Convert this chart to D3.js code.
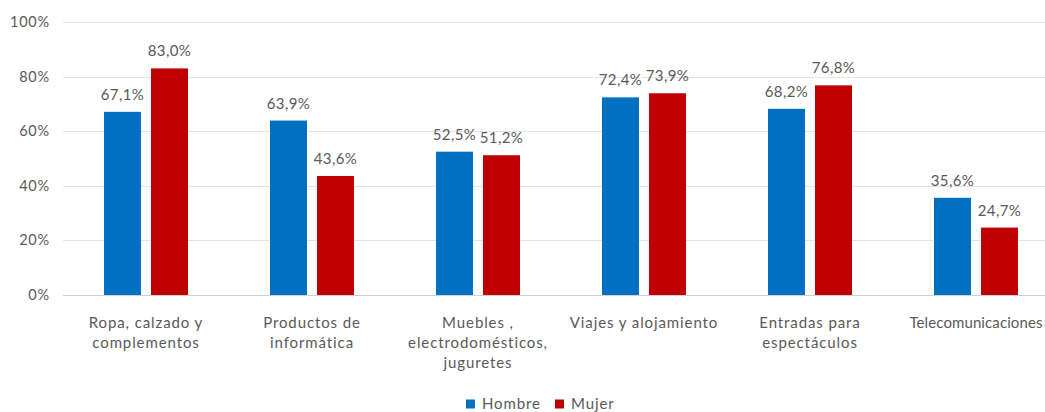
<!DOCTYPE html>
<html>
<head>
<meta charset="utf-8">
<script src="https://cdn.jsdelivr.net/npm/d3@7"></script>
<style>
  body { margin: 0; background: #fff; }
  svg text { font-family: Lato, "Open Sans", sans-serif; fill: #595959; }
</style>
</head>
<body>
<svg id="chart" width="1045" height="412"></svg>
<script>
// categories (split in lines like the original)
var categories = [
  ["Ropa, calzado y", "complementos"],
  ["Productos de", "informática"],
  ["Muebles ,", "electrodomésticos,", "juguretes"],
  ["Viajes y alojamiento"],
  ["Entradas para", "espectáculos"],
  ["Telecomunicaciones"]
];
var seriesNames = ["Hombre", "Mujer"];
var hombre = [67.1, 63.9, 52.5, 72.4, 68.2, 35.6];
var mujer = [83.0, 43.6, 51.2, 73.9, 76.8, 24.7];
var yTicks = [0, 20, 40, 60, 80, 100];
var colors = ["#0070C0", "#C00000"];

var svg = d3.select("#chart"),
    margin = {top: 22, left: 63, bottom: 117},
    plotW = 996,
    height = 412 - margin.top - margin.bottom;

var x = d3.scaleBand().domain(d3.range(categories.length)).range([0, plotW]);
var x1 = d3.scaleBand().domain([0, 1]).range([x.bandwidth() / 2 - 42, x.bandwidth() / 2 + 42]).paddingInner(0.213);
var y = d3.scaleLinear().domain([0, 100]).range([height, 0]);

var g = svg.append("g").attr("transform", "translate(" + margin.left + "," + margin.top + ")");

// grid
g.selectAll("line.grid").data(yTicks).enter()
  .append("line")
  .attr("class", "grid")
  .attr("x1", 0).attr("x2", plotW)
  .attr("y1", function(d) { return Math.round(y(d)) + 0.5; })
  .attr("y2", function(d) { return Math.round(y(d)) + 0.5; })
  .attr("stroke", function(d) { return d == 0 ? "#d0d0d0" : "#e3e3e3"; })
  .attr("stroke-width", 1);

// y labels
g.selectAll("text.ylab").data(yTicks).enter()
  .append("text")
  .attr("class", "ylab")
  .attr("x", -13)
  .attr("y", function(d) { return y(d); })
  .attr("dy", "0.35em")
  .attr("text-anchor", "end")
  .style("font-size", "14.5px")
  .style("letter-spacing", "0.8px")
  .text(function(d) { return d + "%"; });

var series = [hombre, mujer];
series.forEach(function(vals, s) {
  var grp = g.append("g");
  grp.selectAll("rect").data(vals).enter()
    .append("rect")
    .attr("x", function(d, i) { return x(i) + x1(s); })
    .attr("width", x1.bandwidth())
    .attr("y", function(d) { return y(d); })
    .attr("height", function(d) { return height - y(d); })
    .attr("fill", colors[s]);
  grp.selectAll("text").data(vals).enter()
    .append("text")
    .attr("x", function(d, i) { return x(i) + x1(s) + x1.bandwidth() / 2; })
    .attr("y", function(d) { return y(d) - 12; })
    .attr("text-anchor", "middle")
    .style("font-size", "15px")
    .style("letter-spacing", "0.4px")
    .text(function(d) { return d.toFixed(1).replace(".", ",") + "%"; });
});

// category labels
var cat = g.selectAll("text.cat").data(categories).enter()
  .append("text")
  .attr("class", "cat")
  .attr("text-anchor", "middle")
  .style("font-size", "15px")
  .style("letter-spacing", function(d, i) { return i == categories.length - 1 ? "0.1px" : "0.9px"; })
  .attr("transform", function(d, i) { return "translate(" + (x(i) + x.bandwidth() / 2) + "," + (height + 33) + ")"; });
cat.selectAll("tspan").data(function(d) { return d; }).enter()
  .append("tspan")
  .attr("x", 0)
  .attr("y", function(d, i) { return i * 20; })
  .text(function(d) { return d; });

// legend
var legend = svg.append("g").attr("transform", "translate(466,404)");
var lx = [0, 89];
seriesNames.forEach(function(n, i) {
  legend.append("rect").attr("x", lx[i]).attr("y", -4.5).attr("width", 9).attr("height", 9).attr("fill", colors[i]);
  legend.append("text").attr("x", lx[i] + 16).attr("y", 0).attr("dy", "0.35em")
    .style("font-size", "15px").style("letter-spacing", "0.9px").text(n);
});
</script>
</body>
</html>
